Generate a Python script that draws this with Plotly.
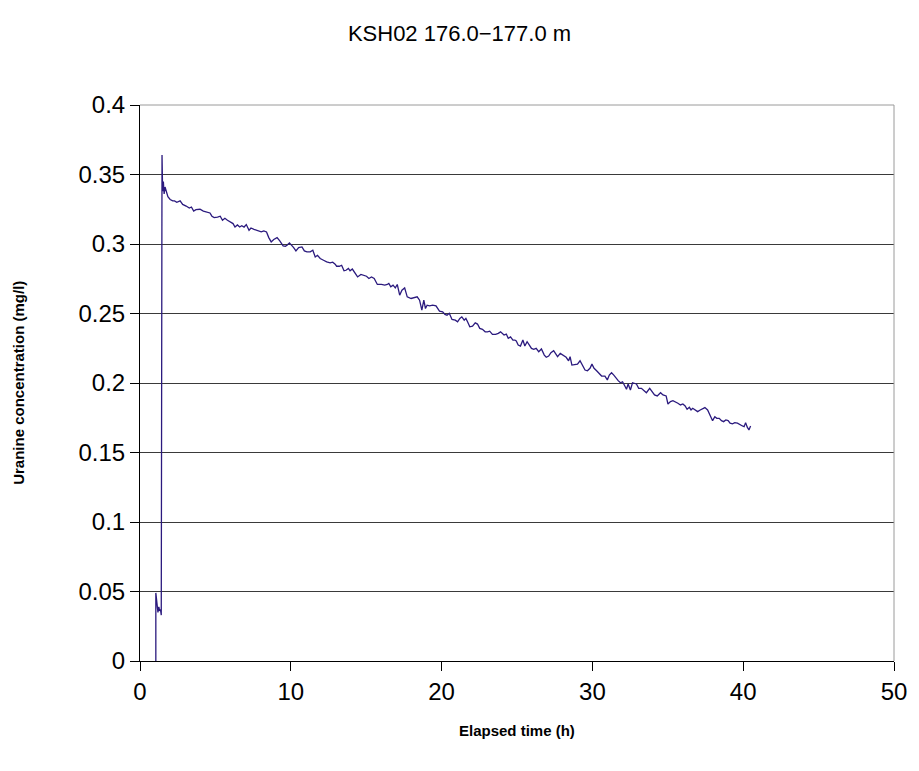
import plotly.graph_objects as go

# Elapsed time (h) and uranine concentration (mg/l)
hours = [
    1.05, 1.05, 1.12, 1.19, 1.25, 1.30, 1.36, 1.41, 1.46, 1.50, 1.55, 1.60, 1.66, 1.74, 1.85,
    2.00, 2.17, 2.29, 2.44, 2.66, 2.83, 3.06, 3.27, 3.41, 3.56, 3.71, 3.98, 4.20, 4.41, 4.64,
    4.77, 4.92, 5.14, 5.32, 5.47, 5.63, 5.80, 6.02, 6.17, 6.30, 6.46, 6.61, 6.75, 6.90, 7.05,
    7.23, 7.36, 7.56, 7.73, 7.89, 8.04, 8.21, 8.39, 8.54, 8.70, 8.87, 9.09, 9.27, 9.49, 9.64,
    9.75, 9.91, 10.08, 10.19, 10.34, 10.52, 10.74, 10.90, 11.07, 11.29, 11.46, 11.62, 11.77,
    11.95, 12.17, 12.38, 12.61, 12.78, 12.94, 13.04, 13.22, 13.37, 13.53, 13.66, 13.82, 13.93,
    14.08, 14.26, 14.43, 14.65, 14.87, 15.02, 15.18, 15.35, 15.53, 15.74, 16.01, 16.23, 16.40,
    16.50, 16.63, 16.78, 16.93, 17.06, 17.22, 17.37, 17.55, 17.72, 17.98, 18.21, 18.38, 18.54,
    18.69, 18.82, 18.93, 19.04, 19.20, 19.41, 19.63, 19.86, 20.07, 20.22, 20.36, 20.51, 20.69,
    20.91, 21.06, 21.21, 21.34, 21.50, 21.61, 21.72, 21.87, 22.05, 22.23, 22.38, 22.53, 22.71,
    22.89, 23.04, 23.19, 23.37, 23.58, 23.76, 23.91, 24.14, 24.29, 24.42, 24.57, 24.73, 24.86,
    24.95, 25.08, 25.23, 25.39, 25.52, 25.67, 25.82, 25.96, 26.11, 26.27, 26.44, 26.62, 26.81,
    26.94, 27.10, 27.25, 27.43, 27.60, 27.69, 27.87, 28.04, 28.26, 28.42, 28.52, 28.64, 28.85,
    29.01, 29.18, 29.36, 29.51, 29.67, 29.84, 29.97, 30.11, 30.28, 30.46, 30.61, 30.83, 30.99,
    31.12, 31.27, 31.42, 31.56, 31.71, 31.86, 32.00, 32.15, 32.26, 32.37, 32.52, 32.66, 32.81,
    32.92, 33.07, 33.25, 33.43, 33.58, 33.80, 33.95, 34.12, 34.30, 34.52, 34.68, 34.89, 35.01,
    35.18, 35.34, 35.49, 35.67, 35.84, 36.00, 36.15, 36.28, 36.43, 36.54, 36.65, 36.81, 36.98,
    37.15, 37.31, 37.46, 37.64, 37.81, 37.97, 38.12, 38.25, 38.41, 38.56, 38.70, 38.85, 39.00,
    39.13, 39.29, 39.44, 39.62, 39.79, 39.95, 40.06, 40.16, 40.27, 40.38, 40.49,
]

concentration = [
    0.000, 0.049, 0.042, 0.035, 0.039, 0.036, 0.037, 0.033, 0.364, 0.338, 0.345, 0.336, 0.341, 0.337, 0.334,
    0.332, 0.331, 0.331, 0.330, 0.331, 0.3285, 0.3273, 0.3259, 0.3266, 0.3237, 0.3247, 0.3250, 0.3237, 0.3228, 0.3223,
    0.3200, 0.3190, 0.3194, 0.3200, 0.3171, 0.3185, 0.3171, 0.3154, 0.3147, 0.3122, 0.3137, 0.3122, 0.3132, 0.3122, 0.3140,
    0.3099, 0.3115, 0.3106, 0.3099, 0.3090, 0.3087, 0.3094, 0.3087, 0.3046, 0.3015, 0.3032, 0.3046, 0.3022, 0.2986, 0.2984,
    0.2991, 0.3008, 0.2991, 0.2974, 0.2950, 0.2974, 0.2979, 0.2950, 0.2943, 0.2943, 0.2955, 0.2907, 0.2919,
    0.2896, 0.2883, 0.2871, 0.2864, 0.2869, 0.2855, 0.2840, 0.2840, 0.2847, 0.2807, 0.2811, 0.2824, 0.2807,
    0.2820, 0.2795, 0.2763, 0.2781, 0.2776, 0.2768, 0.2752, 0.2763, 0.2752, 0.2709, 0.2709, 0.2704, 0.2709,
    0.2716, 0.2692, 0.2704, 0.2684, 0.2709, 0.2632, 0.2668, 0.2684, 0.2620, 0.2608, 0.2613, 0.2620, 0.2596,
    0.2524, 0.2596, 0.2536, 0.2560, 0.2555, 0.2560, 0.2555, 0.2517, 0.2512, 0.2493, 0.2488, 0.2501, 0.2457,
    0.2452, 0.2440, 0.2465, 0.2476, 0.2452, 0.2465, 0.2440, 0.2404, 0.2409, 0.2433, 0.2424, 0.2393, 0.2386,
    0.2368, 0.2368, 0.2373, 0.2350, 0.2350, 0.2357, 0.2368, 0.2345, 0.2352, 0.2321, 0.2332, 0.2309, 0.2309,
    0.2302, 0.2273, 0.2266, 0.2309, 0.2266, 0.2297, 0.2273, 0.2249, 0.2242, 0.2249, 0.2225, 0.2245, 0.2201,
    0.2185, 0.2194, 0.2218, 0.2232, 0.2201, 0.2189, 0.2213, 0.2201, 0.2185, 0.2160, 0.2189, 0.2129, 0.2136,
    0.2136, 0.2160, 0.2117, 0.2093, 0.2088, 0.2106, 0.2136, 0.2106, 0.2088, 0.2070, 0.2050, 0.2050, 0.2022,
    0.2057, 0.2074, 0.2057, 0.2034, 0.2017, 0.2002, 0.2009, 0.1978, 0.1955, 0.1993, 0.1950, 0.2002, 0.1998,
    0.1993, 0.1962, 0.1962, 0.1945, 0.1930, 0.1962, 0.1938, 0.1914, 0.1907, 0.1930, 0.1914, 0.1907, 0.1849,
    0.1866, 0.1873, 0.1866, 0.1854, 0.1842, 0.1849, 0.1835, 0.1811, 0.1825, 0.1806, 0.1818, 0.1806, 0.1794,
    0.1806, 0.1818, 0.1823, 0.1806, 0.1770, 0.1729, 0.1758, 0.1746, 0.1746, 0.1729, 0.1722, 0.1734, 0.1729,
    0.1711, 0.1706, 0.1715, 0.1711, 0.1698, 0.1691, 0.1686, 0.1715, 0.1682, 0.1662, 0.1691,
]

x_ticks = [0, 10, 20, 30, 40, 50]
y_ticks = [0, 0.05, 0.1, 0.15, 0.2, 0.25, 0.3, 0.35, 0.4]
y_tick_text = ["0", "0.05", "0.1", "0.15", "0.2", "0.25", "0.3", "0.35", "0.4"]

FONT = "Liberation Sans, Arial, sans-serif"

fig = go.Figure()
fig.add_trace(go.Scatter(
    x=hours, y=concentration, mode="lines",
    line=dict(color="#2B1A7E", width=1.3),
    showlegend=False, hoverinfo="x+y",
))

fig.update_layout(
    width=919, height=771,
    margin=dict(l=140, r=20, t=105, b=110),
    paper_bgcolor="white", plot_bgcolor="white",
    font=dict(family=FONT, color="black"),
    title=dict(text="KSH02 176.0\u2212177.0 m", x=0.5, xref="container", xanchor="center",
               y=1 - 33 / 771, yref="container", yanchor="middle",
               font=dict(size=22, family=FONT, color="black")),
    xaxis=dict(
        range=[0, 50], tickvals=x_ticks, ticktext=[str(v) for v in x_ticks],
        showgrid=False, zeroline=False,
        showline=True, linecolor="black", linewidth=1,
        ticks="outside", ticklen=9, tickcolor="black", tickwidth=1,
        tickfont=dict(size=24, family=FONT),
    ),
    yaxis=dict(
        range=[0, 0.4], tickvals=y_ticks, ticktext=y_tick_text,
        showgrid=True, gridcolor="#3a3a3a", gridwidth=1, zeroline=False,
        showline=True, linecolor="black", linewidth=1,
        ticks="outside", ticklen=9, tickcolor="black", tickwidth=1,
        tickfont=dict(size=24, family=FONT),
    ),
    annotations=[
        dict(text="<b>Elapsed time (h)</b>", x=0.5, y=-0.125, xref="paper", yref="paper",
             xanchor="center", yanchor="middle", showarrow=False,
             font=dict(size=15, family=FONT)),
        dict(text="<b>Uranine concentration (mg/l)</b>", x=-0.162, y=0.5, xref="paper", yref="paper",
             xanchor="center", yanchor="middle", showarrow=False, textangle=-90,
             font=dict(size=15, family=FONT)),
    ],
    shapes=[
        dict(type="line", xref="paper", yref="paper", x0=0, x1=1, y0=1, y1=1,
             line=dict(color="#9a9a9a", width=1), layer="above"),
        dict(type="line", xref="paper", yref="paper", x0=1, x1=1, y0=0, y1=1,
             line=dict(color="#9a9a9a", width=1), layer="above"),
    ],
)

fig.write_html("out.html")
